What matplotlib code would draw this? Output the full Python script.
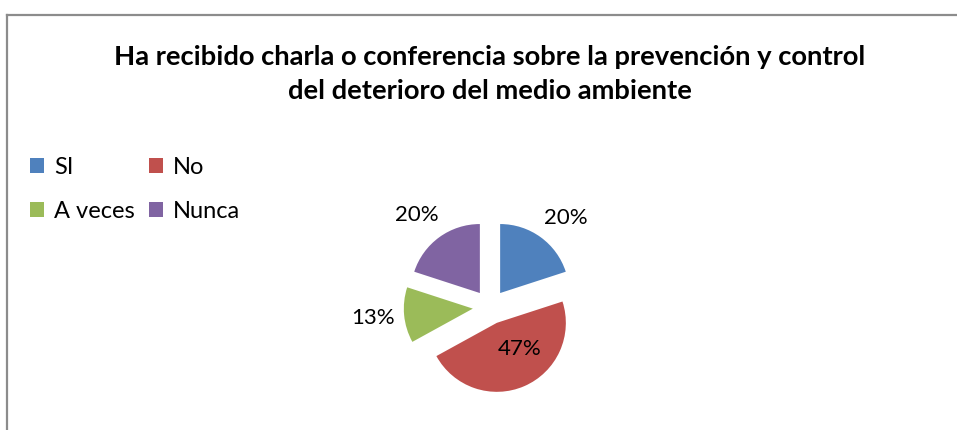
import matplotlib.pyplot as plt
from matplotlib.patches import Patch
from matplotlib.lines import Line2D
import numpy as np

# Data
categories = ['SI', 'No', 'A veces', 'Nunca']
values = [20, 47, 13, 20]
colors = ['#4F81BD', '#C0504D', '#9BBB59', '#8064A2']
title = 'Ha recibido charla o conferencia sobre la prevención y control\ndel deterioro del medio ambiente'

plt.rcParams['font.family'] = ['Lato', 'DejaVu Sans']

W, H = 957, 430
fig = plt.figure(figsize=(W / 100, H / 100), dpi=100)

# Gray frame (left and top edges visible)
fig.add_artist(Line2D([7 / W, 7 / W], [0, 1 - 15 / H], color='#8c8c8c', lw=1.6))
fig.add_artist(Line2D([7 / W, 1], [1 - 15 / H, 1 - 15 / H], color='#8c8c8c', lw=1.6))

fig.text(490 / W, 1 - 74 / H, title, ha='center', va='center', fontsize=19.7,
         fontweight='bold', linespacing=1.5)

# Pie axes: centre at (490, 307) px, radius 69 px
r_px = 69
half = 123
ax = fig.add_axes([(490 - half) / W, (H - 307 - half) / H, 2 * half / W, 2 * half / H])
lim = half / r_px
ax.axis('off')

wedges, _, autotexts = ax.pie(values, colors=colors, startangle=90, counterclock=False,
                              explode=[0.25] * 4, autopct='%1.0f%%', radius=1,
                              textprops={'fontsize': 16, 'color': 'black'})
ax.set_xlim(-lim, lim)
ax.set_ylim(-lim, lim)
ax.set_aspect('equal')

label_dist = [1.45, 0.5, 1.45, 1.45]
label_shift = [-5, 18, 0, 3]
for w, t, d, s in zip(wedges, autotexts, label_dist, label_shift):
    ang = np.deg2rad((w.theta1 + w.theta2) / 2 + s)
    cx, cy = w.center
    t.set_position((cx + d * np.cos(ang), cy + d * np.sin(ang)))
    t.set_clip_on(False)

# legend fills column-first, so reorder to read row-wise: SI No / A veces Nunca
order = [0, 2, 1, 3]
handles = [Patch(facecolor=colors[i], edgecolor='none') for i in order]
labels = [categories[i] for i in order]
fig.legend(handles, labels, loc='upper left', bbox_to_anchor=(18 / W, 1 - 145 / H),
           ncol=2, frameon=False, fontsize=17, handlelength=0.62, handleheight=0.62,
           handletextpad=0.4, labelspacing=0.97, columnspacing=0.6, borderpad=0)

plt.savefig('out.png', dpi=100)
